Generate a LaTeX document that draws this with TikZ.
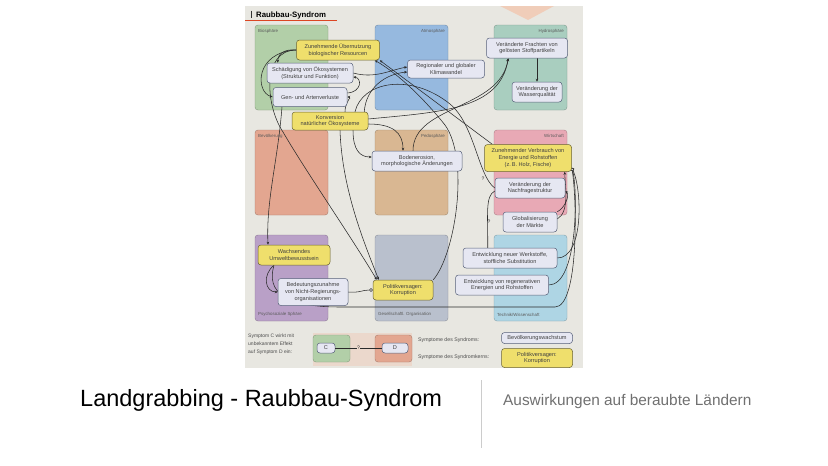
\documentclass[tikz,border=0pt]{standalone}
\usepackage{fontspec}
\setmainfont{Liberation Sans}
\usetikzlibrary{arrows.meta}

\definecolor{photobg}{HTML}{E8E7E1}
\definecolor{biofill}{HTML}{B2CFA8}
\definecolor{atmofill}{HTML}{96B9DF}
\definecolor{hydrofill}{HTML}{A9CEBF}
\definecolor{bevfill}{HTML}{E3A690}
\definecolor{pedofill}{HTML}{D9B792}
\definecolor{wirtfill}{HTML}{E8A9B5}
\definecolor{psychofill}{HTML}{B9A0C7}
\definecolor{gesfill}{HTML}{B9C0CD}
\definecolor{techfill}{HTML}{AED5E4}
\definecolor{symfill}{HTML}{E6E7F2}
\definecolor{symline}{HTML}{58617A}
\definecolor{kernfill}{HTML}{EFDF6C}
\definecolor{kernline}{HTML}{6B6433}
\definecolor{connc}{HTML}{2A2A2A}
\definecolor{labelc}{HTML}{5A5A5A}
\definecolor{legbg}{HTML}{EBD8CC}
\definecolor{peach}{HTML}{F0CDB9}
\definecolor{subc}{HTML}{707070}

\pgfdeclarelayer{flaechen}
\pgfdeclarelayer{linien}
\pgfsetlayers{flaechen,linien,main}

\tikzset{
  panel/.style={rounded corners=3pt, draw=#1!75!black, fill=#1, line width=0.4pt},
  sphere/.style={font=\fontsize{4.4}{5}\selectfont, text=labelc, inner sep=0pt},
  symptom/.style={draw=symline, fill=symfill, rounded corners=3pt, line width=0.5pt,
    align=center, inner sep=0pt, text=black!75, font=\fontsize{5.6}{6.8}\selectfont},
  kern/.style={symptom, fill=kernfill, draw=kernline},
  conn/.style={draw=connc, line width=0.55pt, -{Stealth[length=3pt,width=2.6pt]}},
  link/.style={draw=connc, line width=0.55pt},
  hemmt/.style={draw=connc, line width=0.55pt, -{Circle[length=3.6pt,fill=white]}},
  frage/.style={font=\fontsize{5}{5}\selectfont, inner sep=0.4pt, text=connc},
}

\begin{document}
\begin{tikzpicture}[x=1pt,y=-1pt]
\useasboundingbox (0,0) rectangle (828,466);

% Foto mit den Sphären
\begin{pgfonlayer}{flaechen}
\fill[photobg] (245,6) rectangle (583,368);
\fill[peach] (500,6) -- (554,6) -- (528,20) -- cycle;
\draw[panel=biofill] (255,25) rectangle (328,110);
\draw[panel=atmofill] (375,25) rectangle (448,110);
\draw[panel=hydrofill] (494,25) rectangle (567,110);
\draw[panel=bevfill] (255,130) rectangle (328,215);
\draw[panel=pedofill] (375,130) rectangle (448,215);
\draw[panel=wirtfill] (494,130) rectangle (567,215);
\draw[panel=psychofill] (255,235) rectangle (328,321);
\draw[panel=gesfill] (375,235) rectangle (448,321);
\draw[panel=techfill] (494,235) rectangle (567,321);
\fill[legbg] (313,333) rectangle (412,366);
\draw[panel=biofill] (313,335) rectangle (350,362);
\draw[panel=bevfill] (375,335) rectangle (412,362);
\end{pgfonlayer}

\node[sphere, anchor=north west] (bio) at (258,29) {Biosphäre};
\node[sphere, anchor=north east] (atmo) at (445,29) {Atmosphäre};
\node[sphere, anchor=north east] (hydro) at (564,29) {Hydrosphäre};
\node[sphere, anchor=north west] (bev) at (258,134) {Bevölkerung};
\node[sphere, anchor=north east] (pedo) at (445,134) {Pedosphäre};
\node[sphere, anchor=north east] (wirt) at (564,134) {Wirtschaft};
\node[sphere, anchor=south west] (psycho) at (258,317) {Psychosoziale Sphäre};
\node[sphere, anchor=south west] (ges) at (378,317) {Gesellschaftl. Organisation};
\node[sphere, anchor=south west] (tech) at (497,317) {Technik/Wissenschaft};

\node[anchor=base west, inner sep=0pt, font=\bfseries\fontsize{7.8}{9}\selectfont] (kopf) at (256,17) {Raubbau-Syndrom};
\draw[line width=0.8pt, black!80] (251,10.5) -- (251,17.5);
\draw[line width=0.6pt, red!45!brown] (245,20.5) -- (337,20.5);

% Symptome
\node[kern, minimum width=83pt, minimum height=20pt] (uebernutzung) at (338,50) {Zunehmende Übernutzung\\biologischer Resourcen};
\node[symptom, minimum width=86pt, minimum height=20pt] (schaedigung) at (310,73) {Schädigung von Ökosystemen\\(Struktur und Funktion)};
\node[symptom, minimum width=74pt, minimum height=19pt] (gen) at (310,97) {Gen- und Artenverluste};
\node[kern, minimum width=76pt, minimum height=18pt] (konversion) at (330,121) {Konversion\\natürlicher Ökosysteme};
\node[symptom, minimum width=77pt, minimum height=18pt] (klima) at (446,69) {Regionaler und globaler\\Klimawandel};
\node[symptom, minimum width=81pt, minimum height=20pt] (frachten) at (527,48) {Veränderte Frachten von\\gelösten Stoffpartikeln};
\node[symptom, minimum width=50pt, minimum height=20pt] (wasser) at (537,92) {Veränderung der\\Wasserqualität};
\node[symptom, minimum width=90pt, minimum height=20pt] (boden) at (417,161) {Bodenerosion,\\morphologische Änderungen};
\node[kern, minimum width=87pt, minimum height=27pt] (verbrauch) at (528,158) {Zunehmender Verbrauch von\\Energie und Rohstoffen\\(z.\,B. Holz, Fische)};
\node[symptom, minimum width=70pt, minimum height=20pt] (nachfrage) at (530,188) {Veränderung der\\Nachfragestruktur};
\node[symptom, minimum width=54pt, minimum height=20pt] (markt) at (530,222) {Globalisierung\\der Märkte};
\node[symptom, minimum width=94pt, minimum height=20pt] (werkstoffe) at (510,258) {Entwicklung neuer Werkstoffe,\\stoffliche Substitution};
\node[symptom, minimum width=93pt, minimum height=20pt] (regenerativ) at (502,285) {Entwicklung von regenerativen\\Energien und Rohstoffen};
\node[kern, minimum width=72pt, minimum height=20pt] (umwelt) at (294,255) {Wachsendes\\Umweltbewusstsein};
\node[symptom, minimum width=70pt, minimum height=27pt] (ngo) at (313,292) {Bedeutungszunahme\\von Nicht-Regierungs-\\organisationen};
\node[kern, minimum width=60pt, minimum height=20pt] (politik) at (403,290) {Politikversagen:\\Korruption};

% Wechselwirkungen
\begin{pgfonlayer}{linien}
\draw[conn] (uebernutzung.west) .. controls (285,49) and (278,53) .. ([xshift=11pt]schaedigung.north west);
\draw[conn] (uebernutzung.west) .. controls (255,52) and (255,92) .. (gen.west);
\draw[conn] ([xshift=-28pt]gen.south) .. controls (278,160) and (266,200) .. ([xshift=-26pt]umwelt.north);
\draw[conn] (uebernutzung.west) .. controls (262,50) and (265,105) .. (283,132) .. controls (305,170) and (350,235) .. ([xshift=4pt]politik.north west);
\draw[conn] ([xshift=10pt]konversion.south) .. controls (342,190) and (365,245) .. ([xshift=6pt]politik.north west);
\draw[conn] (schaedigung.east) .. controls (375,79) and (390,70) .. ([yshift=2pt]klima.west);
\draw[conn] ([yshift=4pt]gen.east) .. controls (362,92) and (362,78) .. ([yshift=-4pt]schaedigung.east);
\draw[conn] ([xshift=15pt]konversion.north) .. controls (345,102) and (352,97) .. (gen.east);
\draw[conn] ([xshift=-4pt]konversion.north east) .. controls (366,88) and (385,74) .. ([yshift=-3pt]klima.west);
\draw[conn] ([yshift=2pt]konversion.east) .. controls (440,112) and (500,110) .. ([xshift=22pt]frachten.south west);
\draw[conn] ([yshift=-3pt]konversion.east) .. controls (392,124) and (403,132) .. ([xshift=-14pt]boden.north);
\draw[conn] ([xshift=23pt]konversion.south) .. controls (353,150) and (360,157) .. ([yshift=4pt]boden.west);
\draw[conn] ([xshift=-4pt]boden.north) .. controls (413,105) and (500,110) .. ([xshift=22pt]frachten.south west);
\draw[conn] ([xshift=10pt]frachten.south) -- (wasser.north);
\draw[conn] ([xshift=8pt]verbrauch.north west) -- (uebernutzung.south east);
\draw[conn] (politik.north east) .. controls (455,255) and (470,160) .. (445,125) .. controls (425,100) and (400,75) .. ([xshift=-5pt]uebernutzung.south east);
\draw[link] ([xshift=25pt]konversion.north) .. controls (362,82) and (410,72) .. (450,104) .. controls (475,125) and (478,176) .. (nachfrage.west);
\draw[link] ([yshift=-3pt]nachfrage.west) .. controls (485,196) and (488,215) .. ([xshift=25pt]werkstoffe.north west);
\draw[conn] ([yshift=3pt]markt.east) .. controls (570,212) and (565,185) .. ([xshift=-7pt]verbrauch.south east);
\draw[conn] (markt.north east) .. controls (565,208) and (570,195) .. ([yshift=-3pt]nachfrage.east);
\draw[hemmt] (werkstoffe.east) .. controls (584,258) and (582,190) .. ([yshift=4pt]verbrauch.south east);
\draw[hemmt] (regenerativ.east) .. controls (578,285) and (578,190) .. ([yshift=4pt]verbrauch.south east);
\draw[hemmt] ([xshift=-20pt]umwelt.south) .. controls (266,292) and (285,307) .. (340,307) -- (555,307) .. controls (579,307) and (577,200) .. ([yshift=4pt]verbrauch.south east);
\draw[conn] ([xshift=-20pt]umwelt.south) .. controls (262,275) and (265,292) .. (ngo.west);
\draw[hemmt] (ngo.east) .. controls (360,293) and (362,290) .. (politik.west);
\end{pgfonlayer}
\node[frage] (frage1) at (483,179) {?};
\node[frage] (frage2) at (489,222) {?};

% Legende
\node[anchor=north west, align=left, inner sep=0pt, text=black!70, font=\fontsize{5}{7.6}\selectfont] (legtext) at (248,334) {Symptom C wirkt mit\\unbekanntem Effekt\\auf Symptom D ein:};
\node[symptom, minimum width=18pt, minimum height=10pt] (legc) at (326,348) {C};
\node[symptom, minimum width=26pt, minimum height=10pt] (legd) at (395,348) {D};
\draw[link] (legc.east) -- node[fill=legbg, frage] {?} (legd.west);
\node[anchor=west, inner sep=0pt, text=black!70, font=\fontsize{5.2}{6}\selectfont] (legsym) at (418,340) {Symptome des Syndroms:};
\node[anchor=west, inner sep=0pt, text=black!70, font=\fontsize{5.2}{6}\selectfont] (legkern) at (418,357) {Symptome des Syndromkerns:};
\node[symptom, minimum width=71pt, minimum height=11pt] (legbev) at (537,338) {Bevölkerungswachstum};
\node[kern, minimum width=71pt, minimum height=19pt] (legpol) at (537,358) {Politikversagen:\\Korruption};

% Folientitel
\node[anchor=base west, inner sep=0pt, font=\fontsize{23.5}{28}\selectfont] (titel) at (80,406) {Landgrabbing - Raubbau-Syndrom};
\draw[black!20, line width=0.6pt] (481,380) -- (481,448);
\node[anchor=base west, inner sep=0pt, text=subc, font=\fontsize{15.4}{18}\selectfont] (untertitel) at (503,405) {Auswirkungen auf beraubte Ländern};
\end{tikzpicture}
\end{document}
